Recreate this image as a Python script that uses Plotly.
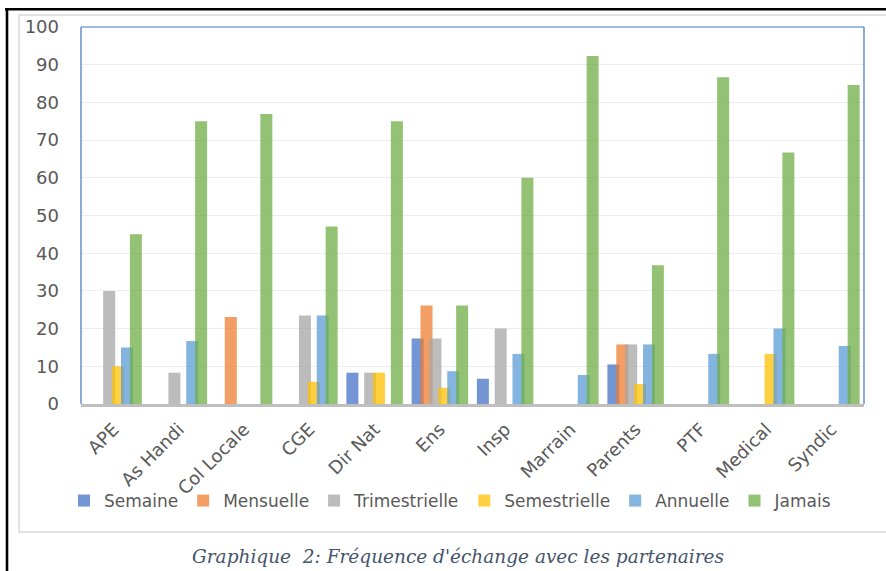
import plotly.graph_objects as go

# Partner categories and exchange-frequency percentages per series
partners = ["APE", "As Handi", "Col Locale", "CGE", "Dir Nat", "Ens", "Insp",
            "Marrain", "Parents", "PTF", "Medical", "Syndic"]
semaine = [0, 0, 0, 0, 8.3, 17.4, 6.7, 0, 10.5, 0, 0, 0]
mensuelle = [0, 0, 23.1, 0, 0, 26.1, 0, 0, 15.8, 0, 0, 0]
trimestrielle = [30, 8.3, 0, 23.5, 8.3, 17.4, 20, 0, 15.8, 0, 0, 0]
semestrielle = [10, 0, 0, 5.9, 8.3, 4.3, 0, 0, 5.3, 0, 13.3, 0]
annuelle = [15, 16.7, 0, 23.5, 0, 8.7, 13.3, 7.7, 15.8, 13.3, 20, 15.4]
jamais = [45, 75, 76.9, 47.1, 75, 26.1, 60, 92.3, 36.8, 86.7, 66.7, 84.6]

series_names = ["Semaine", "Mensuelle", "Trimestrielle", "Semestrielle", "Annuelle", "Jamais"]
series_values = [semaine, mensuelle, trimestrielle, semestrielle, annuelle, jamais]
# Office palette, drawn semi-transparent
colors = ["rgba(68,114,196,0.75)", "rgba(237,125,49,0.75)", "rgba(165,165,165,0.75)",
          "rgba(255,192,0,0.75)", "rgba(91,155,213,0.75)", "rgba(112,173,71,0.75)"]

W, H = 886, 571
ML, MR, MT, MB = 81, 22, 27, 167
PW, PH = W - ML - MR, H - MT - MB


def px_x(px):
    return (px - ML) / PW


def px_y(py):
    return (H - MB - py) / PH


# overlapping clustered bars: each bar 12 px wide, stepped by ~8.9 px
cat_px = PW / len(partners)
bar_w = 12 / cat_px
step = 8.9 / cat_px
start = -(5 * step + bar_w) / 2

fig = go.Figure()
for i, (name, vals, col) in enumerate(zip(series_names, series_values, colors)):
    fig.add_trace(go.Bar(
        x=partners, y=vals, name=name,
        marker=dict(color=col, line=dict(width=0)),
        width=bar_w, offset=start + i * step,
    ))

gray_txt = "#595959"
fig.update_layout(
    width=W, height=H,
    margin=dict(l=ML, r=MR, t=MT, b=MB),
    paper_bgcolor="white", plot_bgcolor="white",
    barmode="overlay",
    font=dict(family="DejaVu Sans", size=18, color=gray_txt),
    showlegend=True,
    legend=dict(orientation="h", x=px_x(64), xanchor="left",
                y=px_y(501), yanchor="middle",
                font=dict(family="DejaVu Sans", size=17, color=gray_txt),
                traceorder="normal", itemclick=False, bgcolor="rgba(0,0,0,0)"),
    xaxis=dict(type="category", tickangle=-45, showgrid=False,
               showline=True, linecolor="#BFBFBF", linewidth=2.5,
               ticks="", tickfont=dict(size=18, color=gray_txt),
               ticklabelstandoff=5,
               range=[-0.5, len(partners) - 0.5], fixedrange=True),
    yaxis=dict(range=[0, 100], dtick=10, showgrid=True, gridcolor="#EDEDED",
               gridwidth=1, zeroline=False, showline=False, ticks="",
               tickfont=dict(size=18, color=gray_txt), ticklabelstandoff=21,
               fixedrange=True),
)

shapes = [
    # plot area outline (left, top, right)
    dict(type="line", xref="paper", yref="paper", x0=0, x1=0, y0=0, y1=1,
         line=dict(color="#4472C4", width=1.2)),
    dict(type="line", xref="paper", yref="paper", x0=0, x1=1, y0=1, y1=1,
         line=dict(color="#4472C4", width=1.2)),
    dict(type="line", xref="paper", yref="paper", x0=1, x1=1, y0=0, y1=1,
         line=dict(color="#4472C4", width=1.2)),
    # chart area frame
    dict(type="rect", xref="paper", yref="paper",
         x0=px_x(19), x1=px_x(900), y0=px_y(532), y1=px_y(15),
         line=dict(color="#D9D9D9", width=1.5), layer="below"),
    # outer page border
    dict(type="line", xref="paper", yref="paper",
         x0=px_x(5), x1=px_x(890), y0=px_y(9.3), y1=px_y(9.3),
         line=dict(color="black", width=2.6)),
    dict(type="line", xref="paper", yref="paper",
         x0=px_x(7), x1=px_x(7), y0=px_y(8), y1=px_y(575),
         line=dict(color="black", width=2.6)),
]
fig.update_layout(shapes=shapes)

fig.add_annotation(
    text="<i>Graphique\u00a0 2: Fréquence d'échange avec les partenaires</i>",
    xref="paper", yref="paper", x=px_x(458), y=px_y(556),
    xanchor="center", yanchor="middle", showarrow=False,
    font=dict(family="DejaVu Serif", size=18.5, color="#44546A"),
)

fig.write_html("out.html", config={"displayModeBar": False})
